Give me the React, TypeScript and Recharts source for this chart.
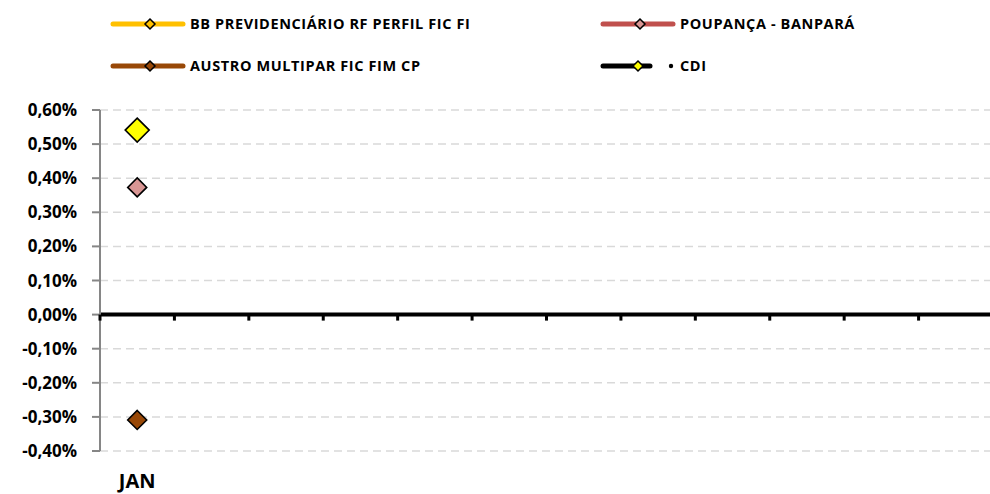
import React from 'react';
import {
  LineChart,
  Line,
  XAxis,
  YAxis,
  CartesianGrid,
  ReferenceLine,
} from 'recharts';

const months = ['JAN', '', '', '', '', '', '', '', '', '', '', ''];
const bbPrevidenciario = [0.54, null, null, null, null, null, null, null, null, null, null, null];
const poupanca = [0.373, null, null, null, null, null, null, null, null, null, null, null];
const austro = [-0.309, null, null, null, null, null, null, null, null, null, null, null];
const cdi = [0.541, null, null, null, null, null, null, null, null, null, null, null];
const yTicks = [-0.4, -0.3, -0.2, -0.1, 0, 0.1, 0.2, 0.3, 0.4, 0.5, 0.6];

const data = months.map((m, i) => ({
  month: m,
  bb: bbPrevidenciario[i],
  poup: poupanca[i],
  austro: austro[i],
  cdi: cdi[i],
}));

const W = 990;
const CW = 994; // plot runs a little past the right edge, like the original
const H = 494;
const TOP = 110;
const LEFT = 100;
const RIGHT = 1;
const XH = 43;
const plotH = H - TOP - XH;
const band = (CW - LEFT - RIGHT) / months.length;
const zeroY = TOP + (0.6 / 1.0) * plotH;

const FONT = '"Open Sans", sans-serif';

const diamond = (fill: string, r: number) => (props: any) => {
  const { cx, cy, value, index } = props;
  if (cx == null || cy == null || value == null) return <g key={index} />;
  return (
    <polygon
      key={index}
      points={`${cx},${cy - r} ${cx + r},${cy} ${cx},${cy + r} ${cx - r},${cy}`}
      fill={fill}
      stroke="#000"
      strokeWidth={1.6}
    />
  );
};

const MonthTick = (props: any) => {
  const { x, payload } = props;
  const left = x - band / 2;
  return (
    <g>
      <rect x={left - 1.5} y={zeroY} width={3} height={6} fill="#000" />
      <text
        x={x}
        y={H - 6}
        textAnchor="middle"
        fontFamily={FONT}
        fontWeight={700}
        fontSize={20}
        fill="#000"
      >
        {payload.value}
      </text>
    </g>
  );
};

const fmt = (v: number) => `${v.toFixed(2).replace('.', ',')}%`;

function LegendItem({ x, y, color, fill, label, lineEnd, bullet }: any) {
  const end = lineEnd ?? x + 70;
  const mx = bullet ? end - 12 : (x + end) / 2 + 2;
  return (
    <g>
      <line x1={x} y1={y} x2={end} y2={y} stroke={color} strokeWidth={5} strokeLinecap="round" />
      <polygon
        points={`${mx},${y - 5} ${mx + 5},${y} ${mx},${y + 5} ${mx - 5},${y}`}
        fill={fill}
        stroke="#000"
        strokeWidth={1.5}
      />
      {bullet && <circle cx={x + 68} cy={y} r={2.2} fill="#000" />}
      <text
        x={x + 77}
        y={y + 5}
        fontFamily={FONT}
        fontWeight={700}
        fontSize={14.5}
        letterSpacing={0.6}
        fill="#000"
      >
        {label}
      </text>
    </g>
  );
}

export default function App() {
  return (
    <div
      style={{
        position: 'absolute',
        left: 0,
        top: 0,
        width: W,
        height: H,
        overflow: 'hidden',
        background: '#fff',
      }}
    >
      <LineChart
        width={CW}
        height={H}
        data={data}
        margin={{ top: TOP, right: RIGHT, bottom: 0, left: 0 }}
      >
        <CartesianGrid vertical={false} stroke="#d9d9d9" strokeDasharray="8 5" strokeWidth={1.5} />
        <XAxis
          dataKey="month"
          height={XH}
          padding={{ left: band / 2, right: band / 2 }}
          axisLine={false}
          tickLine={false}
          interval={0}
          tick={<MonthTick />}
        />
        <YAxis
          width={LEFT}
          domain={[-0.4, 0.6]}
          ticks={yTicks}
          tickFormatter={fmt}
          axisLine={{ stroke: '#868686', strokeWidth: 2 }}
          tickLine={{ stroke: '#868686', strokeWidth: 2 }}
          tickSize={8}
          tickMargin={15}
          tick={{ fontFamily: FONT, fontWeight: 700, fontSize: 17, fill: '#000' }}
        />
        <ReferenceLine y={0} stroke="#000" strokeWidth={4} />
        <Line dataKey="bb" stroke="#ffc000" strokeWidth={5} dot={diamond('#ffc000', 9)} isAnimationActive={false} />
        <Line dataKey="poup" stroke="#c0504d" strokeWidth={5} dot={diamond('#d99694', 9.5)} isAnimationActive={false} />
        <Line dataKey="austro" stroke="#984807" strokeWidth={5} dot={diamond('#984807', 9.5)} isAnimationActive={false} />
        <Line dataKey="cdi" stroke="#000" strokeWidth={5} dot={diamond('#ffff00', 12)} isAnimationActive={false} />
      </LineChart>
      <svg width={W} height={90} style={{ position: 'absolute', left: 0, top: 0 }}>
        <LegendItem x={113} y={24} color="#ffc000" fill="#ffc000" label="BB PREVIDENCIÁRIO RF PERFIL FIC FI" />
        <LegendItem x={603} y={24} color="#c0504d" fill="#d99694" label="POUPANÇA - BANPARÁ" />
        <LegendItem x={113} y={66} color="#984807" fill="#984807" label="AUSTRO MULTIPAR FIC FIM CP" />
        <LegendItem x={603} y={66} color="#000" fill="#ffff00" label="CDI" lineEnd={650} bullet />
      </svg>
    </div>
  );
}
